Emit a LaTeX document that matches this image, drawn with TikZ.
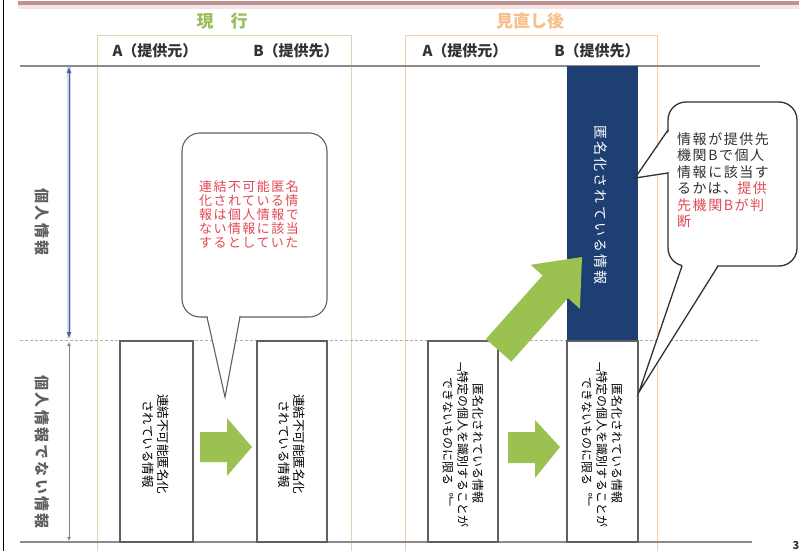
\documentclass[tikz,border=0pt]{standalone}
\usepackage{fontspec}
\newfontfamily\jp{Noto Sans CJK JP}
\newfontfamily\jpls[LetterSpace=11]{Noto Sans CJK JP}
\newfontfamily\jpv[Vertical=RotatedGlyphs]{Noto Sans CJK JP}
\newfontfamily\jpvs[Vertical=RotatedGlyphs,LetterSpace=15]{Noto Sans CJK JP}
\usetikzlibrary{arrows.meta}
\definecolor{topbar}{RGB}{190,145,147}
\definecolor{toplight}{RGB}{246,228,228}
\definecolor{arrowgreen}{RGB}{155,194,80}
\definecolor{headgreen}{RGB}{155,190,90}
\definecolor{headorange}{RGB}{248,190,140}
\definecolor{navy}{RGB}{29,63,115}
\definecolor{redtext}{RGB}{228,72,84}
\definecolor{labelgray}{RGB}{95,95,95}
\definecolor{panelL}{RGB}{222,212,178}
\definecolor{panelR}{RGB}{244,204,168}
\definecolor{axisblue}{RGB}{70,100,150}
\definecolor{linegray}{RGB}{140,140,140}
\definecolor{darktext}{RGB}{50,50,50}
\tikzset{
  header/.style={font=\jp\bfseries\fontsize{15}{15}\selectfont, text=darktext, inner sep=0pt},
  vtext/.style={rotate=-90, align=center, inner sep=0pt},
  infobox/.style={draw=gray!75!black, line width=1.1pt, fill=white},
  callout/.style={draw=darktext, line width=1.3pt, fill=white},
}
\begin{document}
\begin{tikzpicture}[x=1pt,y=-1pt]
\useasboundingbox (0,0) rectangle (799,551);
\fill[white] (0,0) rectangle (799,551);
% top bar and left edge
\fill[toplight] (18,5.5) rectangle (799,9);
\fill[topbar] (18,1.5) rectangle (799,5.5);
\draw[line width=1.8pt, black] (3.5,0) -- (3.5,551);
% panels
\draw[panelL, line width=0.8pt] (97,551) -- (97,35) -- (351,35) -- (351,551);
\draw[panelR, line width=0.8pt] (405,551) -- (405,35) -- (657,35) -- (657,551);
% headings
\node[text=headgreen, font=\jp\bfseries\fontsize{17}{17}\selectfont] (hcur) at (222,21) {現　行};
\node[text=headorange, font=\jp\bfseries\fontsize{17}{17}\selectfont] (hnew) at (530,21) {見直し後};
\node[header] (cA) at (155,51) {A（提供元）};
\node[header] (cB) at (296,51) {B（提供先）};
\node[header] (nA) at (465,51) {A（提供元）};
\node[header] (nB) at (597,51) {B（提供先）};
% horizontal guide lines
\coordinate (l1a) at (20,66); \coordinate (l1b) at (760,66);
\coordinate (l2a) at (20,340); \coordinate (l2b) at (760,340);
\coordinate (l3a) at (20,542); \coordinate (l3b) at (752,542);
\draw[linegray, line width=1.3pt] (l1a) -- (l1b);
\draw[linegray!70, line width=0.9pt, dash pattern=on 3pt off 2pt] (l2a) -- (l2b);
\draw[linegray, line width=1.3pt] (l3a) -- (l3b);
% left axis
\coordinate (ytop) at (69,67); \coordinate (ymid) at (69,338);
\coordinate (ymid2) at (69,342); \coordinate (ybot) at (69,541);
\draw[axisblue!25, line width=4pt] (ytop) -- (ymid);
\draw[axisblue, line width=1pt, {Latex[length=6pt,width=5pt]}-{Latex[length=6pt,width=5pt]}] (ytop) -- (ymid);
\draw[gray, line width=0.8pt, {Latex[length=4pt,width=4pt]}-{Latex[length=4pt,width=4pt]}] (ymid2) -- (ybot);
\node[vtext, text=labelgray, font=\jpvs\bfseries\fontsize{15}{15}\selectfont] (lblP) at (42,222) {個人情報};
\node[vtext, text=labelgray, font=\jpvs\bfseries\fontsize{15}{15}\selectfont] (lblN) at (42,452) {個人情報でない情報};
% current boxes
\draw[infobox] (120,341) rectangle (193,542);
\draw[infobox] (257,341) rectangle (327,542);
\node[vtext, font=\jpv\fontsize{12.5}{15}\selectfont] (tcA) at (156,444) {連結不可能匿名化\\されている情報};
\node[vtext, font=\jpv\fontsize{12.5}{15}\selectfont] (tcB) at (292,444) {連結不可能匿名化\\されている情報};
% new boxes
\draw[infobox] (428,341) rectangle (498,542);
\draw[infobox] (567,341) rectangle (638,542);
\fill[navy] (567,66) rectangle (638,340);
\node[vtext, font=\jpv\fontsize{12}{15}\selectfont] (tnA) at (463,443) {匿名化されている情報\\﹁特定の個人を識別することが\\できないものに限る︒﹂};
\node[vtext, font=\jpv\fontsize{12}{15}\selectfont] (tnB) at (602,443) {匿名化されている情報\\﹁特定の個人を識別することが\\できないものに限る︒﹂};
\node[vtext, text=white, font=\jpvs\fontsize{14}{14}\selectfont] (tnav) at (601,205) {匿名化されている情報};
% green arrows
\fill[arrowgreen] (200,432) -- (227,432) -- (227,418) -- (252,447) -- (227,476) -- (227,462) -- (200,462) -- cycle;
\fill[arrowgreen] (508,432) -- (535,432) -- (535,420) -- (560,447) -- (535,478) -- (535,463) -- (508,463) -- cycle;
\fill[arrowgreen] (511.3,361.6) -- (568,298.1) -- (579.9,308.8) -- (582,257) -- (530.7,264.8) -- (542.6,275.5) -- (485.9,339) -- cycle;
% bubble 1 (current)
\draw[infobox, rounded corners=18pt] (182,133) rectangle (327,317);
\fill[white] (207.8,315.8) -- (239.2,315.8) -- (225,395) -- cycle;
\draw[gray!75!black, line width=1.1pt, line join=miter] (207,317) -- (225,397) -- (240,317);
\node[align=left, text=redtext, font=\jpls\fontsize{13}{14}\selectfont, inner sep=0pt] (b1txt) at (249,214) {連結不可能匿名\\化されている情\\報は個人情報で\\ない情報に該当\\するとしていた};
% bubble 2 (new)
\draw[callout, rounded corners=18pt] (668,102) rectangle (797,266);
\fill[white] (669.2,131) -- (669.2,172) -- (637,178) -- cycle;
\draw[darktext, line width=1.3pt] (668,130) -- (635,178) -- (668,173);
\fill[white] (682.5,264.8) -- (717.5,264.8) -- (640,390) -- cycle;
\draw[darktext, line width=1.3pt] (682,266) -- (639,392) -- (718,266);
\node[align=left, anchor=north west, text=darktext, font=\jpls\fontsize{14}{16.5}\selectfont, inner sep=0pt] (b2txt) at (677,132) {情報が提供先\\機関Bで個人\\情報に該当す\\るかは、\textcolor{redtext}{提供}\\\textcolor{redtext}{先機関Bが判}\\\textcolor{redtext}{断}};
% page number
\node[font=\jp\bfseries\fontsize{11}{11}\selectfont, text=darktext] (pg) at (796,545) {3};
\end{tikzpicture}
\end{document}
